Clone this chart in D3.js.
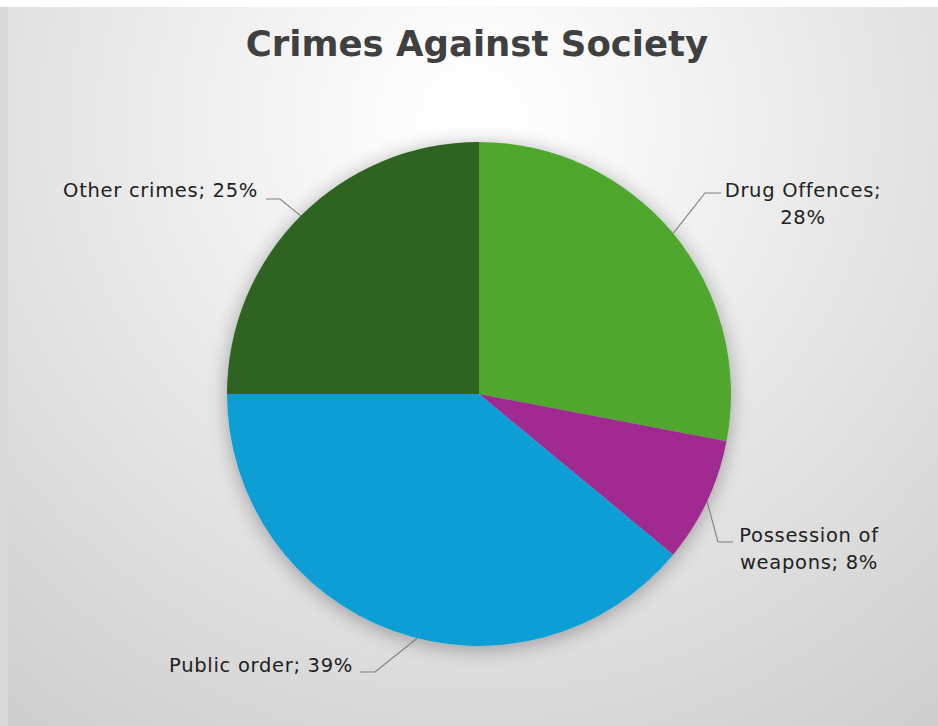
<!DOCTYPE html>
<html>
<head>
<meta charset="utf-8">
<script src="https://cdn.jsdelivr.net/npm/d3@7/dist/d3.min.js"></script>
<style>
  html, body { margin: 0; padding: 0; background: #ffffff; }
  svg { display: block; }
</style>
</head>
<body>
<svg id="chart" width="938" height="726"></svg>
<script>
// Chart data
const categories = ["Drug Offences", "Possession of weapons", "Public order", "Other crimes"];
const shares = [28, 8, 39, 25];
const sliceColors = ["#4fa72f", "#a02a91", "#109ed6", "#2e6420"];
const title = "Crimes Against Society";

// Label layout: label text lines, anchor, elbow of the leader line, and text position
const labelLayout = [
  { lines: ["Drug Offences;", "28%"], anchor: "middle", tx: 803, ty: 197, elbow: [705, 193], end: [721, 193], shift: 0 },
  { lines: ["Possession of", "weapons; 8%"], anchor: "middle", tx: 809, ty: 542, elbow: [718, 542], end: [733, 542], shift: 0 },
  { lines: ["Public order; 39%"], anchor: "end", tx: 353, ty: 672, elbow: [375, 672], end: [360, 672], shift: -5.6 },
  { lines: ["Other crimes; 25%"], anchor: "end", tx: 258, ty: 197, elbow: [280, 199], end: [266, 199], shift: 0 }
];

const W = 938, H = 726;
const cx = 479, cy = 394, R = 252;
const labelFont = "'DejaVu Sans', sans-serif";

const svg = d3.select("#chart");
const defs = svg.append("defs");

// Background radial gradient
const bg = defs.append("radialGradient")
  .attr("id", "bgGrad")
  .attr("gradientUnits", "userSpaceOnUse")
  .attr("cx", 473).attr("cy", 120).attr("r", 780);
bg.append("stop").attr("offset", "0").attr("stop-color", "#ffffff");
bg.append("stop").attr("offset", "0.12").attr("stop-color", "#fbfbfb");
bg.append("stop").attr("offset", "1").attr("stop-color", "#cdcdcd");

// Soft shadow around the pie
const shadow = defs.append("filter").attr("id", "pieShadow")
  .attr("x", "-20%").attr("y", "-20%").attr("width", "140%").attr("height", "140%");
shadow.append("feGaussianBlur").attr("in", "SourceAlpha").attr("stdDeviation", 10).attr("result", "blur");
shadow.append("feOffset").attr("in", "blur").attr("dx", 0).attr("dy", 3).attr("result", "off");
shadow.append("feComponentTransfer").attr("in", "off").attr("result", "shade")
  .append("feFuncA").attr("type", "linear").attr("slope", 0.32);
const merge = shadow.append("feMerge");
merge.append("feMergeNode").attr("in", "shade");
merge.append("feMergeNode").attr("in", "SourceGraphic");

svg.append("rect").attr("x", 0).attr("y", 0).attr("width", W).attr("height", H).attr("fill", "#ffffff");
svg.append("rect").attr("x", 0).attr("y", 7).attr("width", 8).attr("height", H - 7).attr("fill", "#dadada");
svg.append("rect").attr("x", 8).attr("y", 7).attr("width", W - 8).attr("height", H - 7).attr("fill", "url(#bgGrad)");

// Title
svg.append("text")
  .attr("x", 477).attr("y", 56)
  .attr("text-anchor", "middle")
  .attr("font-family", labelFont)
  .attr("font-weight", "bold")
  .attr("font-size", 35.5)
  .attr("fill", "#404040")
  .text(title);

// Pie
const data = categories.map((c, i) => ({ name: c, value: shares[i], color: sliceColors[i], layout: labelLayout[i] }));
const pie = d3.pie().value(d => d.value).sort(null);
const arc = d3.arc().innerRadius(0).outerRadius(R);
const arcs = pie(data);

const g = svg.append("g").attr("transform", `translate(${cx},${cy})`);
const pieGroup = g.append("g").attr("filter", "url(#pieShadow)");
pieGroup.selectAll("path")
  .data(arcs)
  .join("path")
  .attr("d", arc)
  .attr("fill", d => d.data.color);

// Leader lines
const lines = svg.append("g");
arcs.forEach(a => {
  const L = a.data.layout;
  const mid = (a.startAngle + a.endAngle) / 2 + L.shift * Math.PI / 180;
  const sx = cx + R * Math.sin(mid);
  const sy = cy - R * Math.cos(mid);
  lines.append("polyline")
    .attr("points", [[sx, sy], L.elbow, L.end].map(p => p.join(",")).join(" "))
    .attr("fill", "none")
    .attr("stroke", "#7f7f7f")
    .attr("stroke-width", 1.1);
});

// Data labels
const labels = svg.append("g")
  .attr("font-family", labelFont)
  .attr("font-size", 19.5)
  .attr("letter-spacing", 0.7)
  .attr("fill", "#222222");
arcs.forEach(a => {
  const L = a.data.layout;
  const t = labels.append("text")
    .attr("x", L.tx).attr("y", L.ty)
    .attr("text-anchor", L.anchor);
  L.lines.forEach((ln, i) => {
    t.append("tspan").attr("x", L.tx).attr("dy", i === 0 ? 0 : 27).text(ln);
  });
});
</script>
</body>
</html>
